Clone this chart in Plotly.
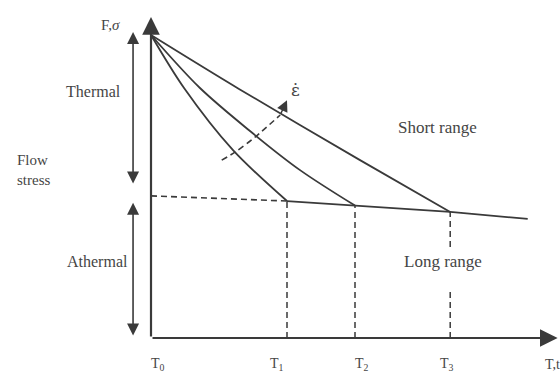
import plotly.graph_objects as go

# --- data -----------------------------------------------------------------
# Temperature positions where each thermal curve meets the athermal plateau
T_marks = [1.0, 1.5, 2.2]
# Labels along the temperature axis and where they sit
T_labels = ["T<sub>0</sub>", "T<sub>1</sub>", "T<sub>2</sub>", "T<sub>3</sub>"]
T_label_x = [0.05, 0.93, 1.55, 2.18]
axis_x_label = "T,t"

# Flow stress vs. temperature for three strain rates (low -> high)
curve1_T = [0.0, 0.243, 0.603, 1.0]
curve1_s = [10.0, 8.25, 6.20, 4.52]
curve2_T = [0.0, 0.36, 0.728, 1.096, 1.5]
curve2_s = [10.0, 8.25, 6.83, 5.54, 4.37]
curve3_T = [0.0, 0.647, 1.537, 2.2]
curve3_s = [10.0, 8.22, 5.87, 4.16]

# Athermal (long range) plateau
long_T = [1.0, 1.5, 2.2, 2.77]
long_s = [4.52, 4.37, 4.16, 3.93]
# Extrapolated plateau back to T0 (dashed)
plateau_T = [0.0, 1.0]
plateau_s = [4.69, 4.52]

# Strain-rate direction arrow
eps_T = [0.52, 0.62, 0.765, 0.95]
eps_s = [5.87, 6.14, 6.63, 7.36]
eps_tip = (1.0, 7.85)

# Axis extents
x_tip = 2.99
y_tip = 10.59

# Brackets on the left
thermal_span = (10.1, 5.05)
athermal_span = (4.46, 0.03)
bracket_x = -0.132

# --- style ----------------------------------------------------------------
INK = "#3a3a3a"
TXT = "#454545"
FONT = "Liberation Serif, Times New Roman, serif"

fig = go.Figure()

def line(xs, ys, dash="solid", width=1.8, smoothing=0.9):
    fig.add_trace(go.Scatter(
        x=xs, y=ys, mode="lines",
        line=dict(color=INK, width=width, dash=dash, shape="spline", smoothing=smoothing),
        hoverinfo="skip", showlegend=False))

for xs, ys in [(curve1_T, curve1_s), (curve2_T, curve2_s), (curve3_T, curve3_s)]:
    line(xs, ys)

fig.add_trace(go.Scatter(x=long_T, y=long_s, mode="lines",
                         line=dict(color=INK, width=1.8),
                         hoverinfo="skip", showlegend=False))

DASH = "6px,4px"
line(plateau_T, plateau_s, dash=DASH, width=1.6)

# vertical drop lines from the plateau to the temperature axis
gap = (1.58, 3.0)  # break around the "Long range" label on T3
vx, vy = [], []
for i, t in enumerate(T_marks):
    top = long_s[i]
    if i == 2:
        vx += [t, t, None, t, t, None]
        vy += [0, gap[0], None, gap[1], top, None]
    else:
        vx += [t, t, None]
        vy += [0, top, None]
fig.add_trace(go.Scatter(x=vx, y=vy, mode="lines",
                         line=dict(color=INK, width=1.5, dash=DASH),
                         hoverinfo="skip", showlegend=False))

line(eps_T, eps_s, dash=DASH, width=1.6)

ann = []

def arrow(x, y, ax, ay, side="end", size=1.3, width=1.8, head=2):
    ann.append(dict(x=x, y=y, ax=ax, ay=ay, xref="x", yref="y",
                    axref="x", ayref="y", showarrow=True, arrowhead=head,
                    startarrowhead=head, arrowside=side, arrowsize=size,
                    startarrowsize=size, arrowwidth=width, arrowcolor=INK,
                    text=""))

# axes with arrowheads
arrow(0, y_tip, 0, 0, size=1.6, width=2.2)
arrow(x_tip, 0, 0, 0, size=1.6, width=2.2)
# thermal / athermal double arrows
arrow(bracket_x, thermal_span[0], bracket_x, thermal_span[1], side="end+start", size=1.5, width=1.6)
arrow(bracket_x, athermal_span[0], bracket_x, athermal_span[1], side="end+start", size=1.5, width=1.6)
# strain-rate arrowhead, continuing the dashed path
arrow(eps_tip[0], eps_tip[1], eps_T[-1], eps_s[-1], size=1.5, width=1.5)

def text(x, y, s, size=16, xanchor="center", align="center", family=FONT):
    ann.append(dict(x=x, y=y, xref="x", yref="y", text=s, showarrow=False,
                    xanchor=xanchor, yanchor="middle", align=align,
                    font=dict(family=family, size=size, color=TXT)))

text(-0.30, 10.33, "F,<i>σ</i>", size=15)
text(-0.426, 8.12, "Thermal")
text(-1.0, 5.54, "Flow<br>stress", size=15, xanchor="left", align="left")
text(-0.397, 2.51, "Athermal")
text(2.11, 6.96, "Short range", size=17)
text(2.147, 2.51, "Long range", size=17)
# strain rate symbol: epsilon with an overdot
text(1.06, 8.2, "ε̇", size=17, family="DejaVu Serif, serif")

for lx, lab in zip(T_label_x, T_labels):
    text(lx, -0.89, lab, size=14)
text(2.88, -0.89, axis_x_label, size=14, xanchor="left")

fig.update_layout(
    width=560, height=373,
    margin=dict(l=0, r=0, t=0, b=0),
    paper_bgcolor="white", plot_bgcolor="white",
    xaxis=dict(range=[-1.1103, 3.0074], visible=False, fixedrange=True),
    yaxis=dict(range=[-1.1551, 11.155], visible=False, fixedrange=True),
    annotations=ann,
)

fig.write_html("out.html")
